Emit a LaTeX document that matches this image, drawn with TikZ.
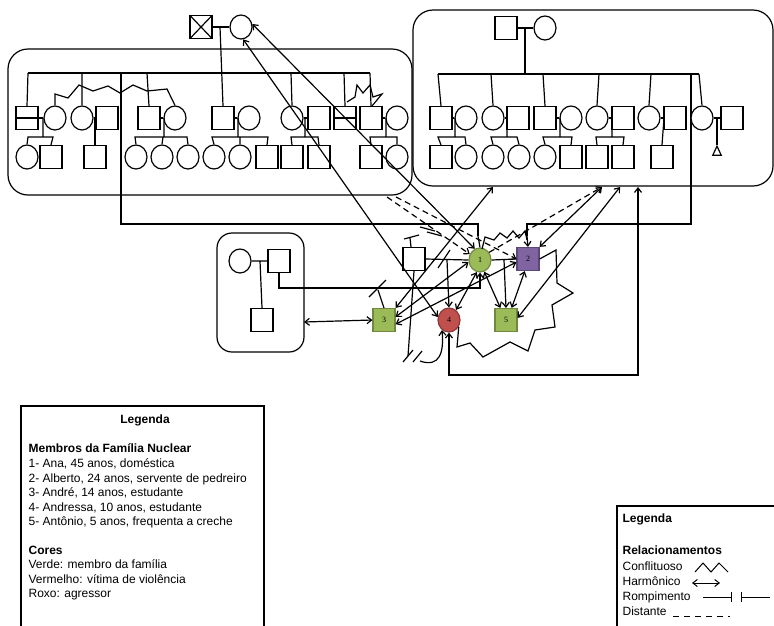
\documentclass[tikz,border=0pt]{standalone}
\usepackage{fontspec}
\setmainfont{Liberation Sans}
\newfontfamily\numfont{Liberation Serif}
\usetikzlibrary{arrows.meta,shapes.geometric}
\definecolor{gfill}{HTML}{9BBB59}\definecolor{gdraw}{HTML}{71893F}
\definecolor{pfill}{HTML}{8064A2}\definecolor{pdraw}{HTML}{5C4776}
\definecolor{rfill}{HTML}{C0504D}\definecolor{rdraw}{HTML}{8C3836}
\begin{document}
\begin{tikzpicture}[x=1pt,y=-1pt,line width=1.2pt,
 msq/.style={draw,fill=white,minimum width=22pt,minimum height=23pt,inner sep=0pt},
 fem/.style={draw,fill=white,ellipse,minimum width=22pt,minimum height=24pt,inner sep=0pt},
 divsq/.style={msq,path picture={\draw (path picture bounding box.west) -- (path picture bounding box.east);}},
 xsq/.style={msq,path picture={\draw (path picture bounding box.north west) -- (path picture bounding box.south east) (path picture bounding box.south west) -- (path picture bounding box.north east);}},
 nuc/.style={font=\numfont\fontsize{8}{9}\selectfont},
 harm/.style={{Straight Barb[length=4.5pt,width=7pt]}-{Straight Barb[length=4.5pt,width=7pt]}},
 tip/.style={-{Straight Barb[length=4.5pt,width=7pt]}},
 dist/.style={dash pattern=on 6pt off 4pt},
 fam/.style={draw,rounded corners=20pt},
 txt/.style={anchor=base west,inner sep=0pt,font=\fontsize{12}{14}\selectfont},
 btxt/.style={txt,font=\fontsize{12}{14}\selectfont\bfseries}]
\useasboundingbox (0,0) rectangle (774,625);

% family boxes
\draw[fam] (8,49) rectangle (412,195);
\draw[fam] (413,10) rectangle (773,186);
\draw[draw,rounded corners=15pt] (217,233) rectangle (304,352);

% ---------- left family ----------
\node[xsq] (GX) at (201,27) {};
\node[fem] (GM) at (241,27) {};
\draw (GX.east) -- (GM.west);
\draw (28,73) -- (370,73);
\draw (121,73) -- (121,224) -| (478,236);
% row 1
\node[divsq] (L1) at (27,118) {};
\node[fem] (L2) at (55,118) {};
\node[fem] (L3) at (82,118) {};
\node[msq] (L4) at (107,118) {};
\node[msq] (L5) at (149,118) {};
\node[fem] (L6) at (175,118) {};
\node[msq] (L7) at (223,118) {};
\node[fem] (L8) at (249,118) {};
\node[fem] (L9) at (292,118) {};
\node[msq] (L10) at (319,118) {};
\node[divsq] (L11) at (345,118) {};
\node[msq] (L12) at (371,118) {};
\node[fem] (L13) at (397,118) {};
\draw (220,27) -- (L7.north);
\draw (28,73) -- (L1.north) (82,73) -- (L3.north) (147,73) -- (L5.north)
      (291,73) -- (L9.north) (344,73) -- (L11.north) (370,73) -- (L12.north);
\draw (L1.east) -- (L2.west) (L3.east) -- (L4.west) (L5.east) -- (L6.west)
      (L7.east) -- (L8.west) (L9.east) -- (L10.west) (L12.east) -- (L13.west);
% conflicts
\draw[line join=miter] (L2.north) -- (55,94) -- (68,98) -- (79,85) -- (93,91) -- (108,86) -- (120,93) -- (133,85) -- (147,91) -- (167,89) -- (L6.north);
\draw[line join=miter] (347,102) -- (355,97) -- (357,85) -- (363,93) -- (370,85) -- (373,97) -- (382,94) -- (372,106);
% row 2
\node[fem] (C1) at (27,157) {};
\node[msq] (C2) at (51,157) {};
\node[msq] (C3) at (95,157) {};
\node[fem] (C4) at (136,157) {};
\node[fem] (C5) at (162,157) {};
\node[fem] (C6) at (188,157) {};
\node[fem] (C7) at (214,157) {};
\node[fem] (C8) at (240,157) {};
\node[msq] (C9) at (267,157) {};
\node[msq] (C10) at (292,157) {};
\node[msq] (C11) at (319,157) {};
\node[msq] (C12) at (371,157) {};
\node[fem] (C13) at (397,157) {};
\draw (43,118) -- (43,137) (C1.north) -- (28,137) -- (53,137) -- (C2.north);
\draw (95,118) -- (C3.north);
\draw (164,118) -- (164,137) (C4.north) -- (135,137) -- (187,137) -- (C6.north) (C5.north) -- (163,137);
\draw (238,118) -- (238,137) (C7.north) -- (212,137) -- (268,137) -- (C9.north) (C8.north) -- (240,137);
\draw (305,118) -- (305,137) (C10.north) -- (291,137) -- (318,137) -- (C11.north);
\draw (386,118) -- (386,137) (C12.north) -- (370,137) -- (397,137) -- (C13.north);

% ---------- right family ----------
\node[msq] (RG1) at (506,28) {};
\node[fem] (RG2) at (545,28) {};
\draw (RG1.east) -- (RG2.west) (525,28) -- (525,74);
\draw (438,74) -- (699,74);
\draw (691,74) -- (691,224) -| (527,236);
\node[msq] (R1) at (441,118) {};
\node[fem] (R2) at (466,118) {};
\node[fem] (R3) at (493,118) {};
\node[msq] (R4) at (518,118) {};
\node[msq] (R5) at (545,118) {};
\node[fem] (R6) at (571,118) {};
\node[fem] (R7) at (597,118) {};
\node[msq] (R8) at (623,118) {};
\node[fem] (R9) at (649,118) {};
\node[msq] (R10) at (675,118) {};
\node[fem] (R11) at (702,118) {};
\node[msq] (R12) at (732,118) {};
\draw (438,74) -- (R1.north) (491,74) -- (R3.north) (543,74) -- (R5.north)
      (599,74) -- (R7.north) (651,74) -- (R9.north) (699,74) -- (R11.north);
\draw (R1.east) -- (R2.west) (R3.east) -- (R4.west) (R5.east) -- (R6.west)
      (R7.east) -- (R8.west) (R9.east) -- (R10.west) (R11.east) -- (R12.west);
\node[msq] (S1) at (441,157) {};
\node[fem] (S2) at (466,157) {};
\node[fem] (S3) at (493,157) {};
\node[fem] (S4) at (519,157) {};
\node[fem] (S5) at (545,157) {};
\node[msq] (S6) at (571,157) {};
\node[msq] (S7) at (597,157) {};
\node[msq] (S8) at (623,157) {};
\node[msq] (S9) at (662,157) {};
\node[draw,isosceles triangle,isosceles triangle apex angle=50,shape border rotate=90,minimum height=9pt,minimum width=8pt,inner sep=0pt] (S10) at (717,152.5) {};
\draw (455,118) -- (455,137) (S1.north) -- (438,137) -- (465,137) -- (S2.north);
\draw (507,118) -- (507,137) (S3.north) -- (491,137) -- (517,137) -- (S4.north);
\draw (560,118) -- (560,137) (S5.north) -- (543,137) -- (572,137) -- (S6.north);
\draw (612,118) -- (612,137) (S7.north) -- (596,137) -- (624,137) -- (S8.north);
\draw (664,118) -- (S9.north);
\draw (717,118) -- (S10.apex);

% ---------- small family ----------
\node[fem] (SB1) at (240,261) {};
\node[msq] (SB2) at (279,261) {};
\node[msq] (SB3) at (262,320) {};
\draw (SB1.east) -- (SB2.west) (260,261) -- (SB3.north);

% ---------- nuclear family ----------
\node[msq] (F) at (414,259) {};
\node[fem,fill=gfill,draw=gdraw,nuc] (N1) at (480,260) {1};
\node[msq,fill=pfill,draw=pdraw,nuc] (N2) at (528,259) {2};
\node[msq,fill=gfill,draw=gdraw,nuc] (N3) at (384,320) {3};
\node[fem,fill=rfill,draw=rdraw,nuc] (N4) at (449,320) {4};
\node[msq,fill=gfill,draw=gdraw,nuc] (N5) at (506,320) {5};
\draw (F.east) -- (N1.west) (N1.east) -- (N2.west);
\draw (438,268) -- (450,250);
\draw[tip] (447,260) -- (N4.north);
\draw[tip] (504,260) -- (N5.north);
\draw (478,236) -- (N1.north);
\draw[tip] (527,236) -- (N2.north);
% cut-off marks
\draw (F.north) ++(-3,0) -- (410,238) (404,239) -- (419,235);
\draw (N3.north) -- (378,290) (369,297) -- (386,280);
\draw (420,227) -- (435,231) (427,232) -- (442,236);
% father to 4 (break)
\draw (F.south) -- (408,356);
\draw (403,362) -- (413,350) (413,362) -- (422,351);
\coordinate (brk) at (420,361);
\draw[tip] (brk) .. controls (440,368) and (444,352) .. (N4.-125);
% small box to 1
\draw[tip] (SB2.south) |- (480,288) -- (N1.south);
% harmonious links
\draw[harm] (304,322) -- (N3.west);
\draw[harm] (GM.-80) -- (N4.165);
\draw[harm] (GM.15) -- (N1.115);
\coordinate (rb1) at (493,187);
\coordinate (rb2) at (602,187);
\coordinate (rb3) at (620,187);
\coordinate (rb4) at (638,187);
\draw[harm] (N3.north east) -- (rb1);
\draw[harm] (N2.north east) -- (rb2);
\draw[harm] (N5.10) -- (rb3);
\draw[harm] (N4.south) |- (638,375) -- (rb4);
\draw[harm] (N1.190) -- (N3.15);
\draw[harm] (N2.-165) -- (N3.-20);
\draw[harm] (N1.-105) -- (N4.55);
\draw[harm] (N1.-70) -- (N5.115);
\draw[harm] (N2.-105) -- (N5.65);
% distant links
\draw[dist,tip] (387,197) -- (N1.150);
\draw[dist,tip] (396,197) -- (N2.west);
\draw[dist,tip] (N1.40) -- (rb2);
% conflicts
\draw[line join=miter] (482,249) -- (485,237) -- (494,240) -- (500,233) -- (507,238) -- (513,231) -- (519,238) -- (525,231) -- (527,240);
\draw[line join=miter] (N2.east) -- (556,250) -- (557,283) -- (573,293) -- (552,305) -- (555,327) -- (535,330) -- (528,351) -- (510,342) -- (483,357) -- (470,343) -- (457,347) -- (N4.-35);

% ---------- legend 1 ----------
\draw (21,640) -- (21,406) -- (264,406) -- (264,640);
\node[btxt,anchor=base] (lg1) at (145,423) {Legenda};
\node[btxt] (lm) at (28,452) {Membros da Família Nuclear};
\node[txt] (l1) at (28,467) {1- Ana, 45 anos, doméstica};
\node[txt] (l2) at (28,482) {2- Alberto, 24 anos, servente de pedreiro};
\node[txt] (l3) at (28,496) {3- André, 14 anos, estudante};
\node[txt] (l4) at (28,511) {4- Andressa, 10 anos, estudante};
\node[txt] (l5) at (28,525) {5- Antônio, 5 anos, frequenta a creche};
\node[btxt] (lc) at (28,554) {Cores};
\node[txt] (c1) at (28,568) {Verde: membro da família};
\node[txt] (c2) at (28,583) {Vermelho: vítima de violência};
\node[txt] (c3) at (28,597) {Roxo: agressor};

% ---------- legend 2 ----------
\draw (617,640) -- (617,506) -- (780,506);
\node[btxt] (lg2) at (622,522) {Legenda};
\node[btxt] (rel) at (622,554) {Relacionamentos};
\node[txt] (r1) at (622,570) {Conflituoso};
\node[txt] (r2) at (622,585) {Harmônico};
\node[txt] (r3) at (622,600) {Rompimento};
\node[txt] (r4) at (622,615) {Distante};
\draw[line width=1pt,line join=miter] (695,572) -- (703,563) -- (711,572) -- (719,563) -- (728,572);
\draw[harm,line width=1pt] (692,583) -- (720,583);
\draw[line width=1pt] (703,597) -- (731,597) (731,592) -- (731,602) (741,592) -- (741,602) (741,597) -- (770,597);
\draw[line width=1pt,dash pattern=on 6pt off 5pt] (673,616) -- (730,616);
\end{tikzpicture}
\end{document}
